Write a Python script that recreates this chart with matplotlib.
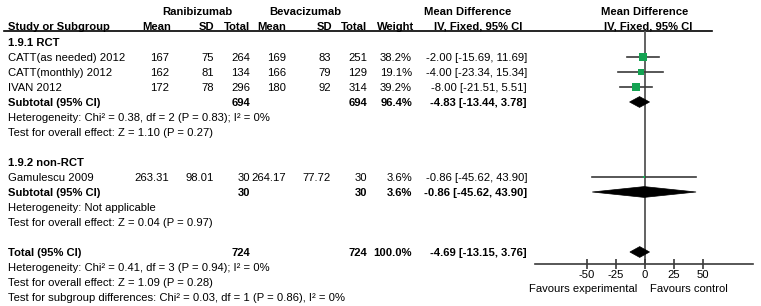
import numpy as np
import matplotlib.pyplot as plt

plt.rcParams['font.family'] = ['Liberation Sans', 'DejaVu Sans']

# --- data ---
studies = ['CATT(as needed) 2012', 'CATT(monthly) 2012', 'IVAN 2012', 'Gamulescu 2009']
study_rows = [1, 2, 3, 9]
rani_mean = [167, 162, 172, 263.31]
rani_sd = [75, 81, 78, 98.01]
rani_n = [264, 134, 296, 30]
bev_mean = [169, 166, 180, 264.17]
bev_sd = [83, 79, 92, 77.72]
bev_n = [251, 129, 314, 30]
weight = [38.2, 19.1, 39.2, 3.6]
md = [-2.00, -4.00, -8.00, -0.86]
ci_lo = [-15.69, -23.34, -21.51, -45.62]
ci_hi = [11.69, 15.34, 5.51, 43.90]

pooled_labels = ['Subtotal (95% CI)', 'Subtotal (95% CI)', 'Total (95% CI)']
pooled_rows = [4, 10, 14]
pooled_n1 = [694, 30, 724]
pooled_n2 = [694, 30, 724]
pooled_w = [96.4, 3.6, 100.0]
pooled_md = [-4.83, -0.86, -4.69]
pooled_lo = [-13.44, -45.62, -13.15]
pooled_hi = [3.78, 43.90, 3.76]

group_labels = ['1.9.1 RCT', '1.9.2 non-RCT']
group_rows = [0, 8]

notes = ['Heterogeneity: Chi\u00b2 = 0.38, df = 2 (P = 0.83); I\u00b2 = 0%',
         'Test for overall effect: Z = 1.10 (P = 0.27)',
         'Heterogeneity: Not applicable',
         'Test for overall effect: Z = 0.04 (P = 0.97)',
         'Heterogeneity: Chi\u00b2 = 0.41, df = 3 (P = 0.94); I\u00b2 = 0%',
         'Test for overall effect: Z = 1.09 (P = 0.28)',
         'Test for subgroup differences: Chi\u00b2 = 0.03, df = 1 (P = 0.86), I\u00b2 = 0%']
note_rows = [5, 6, 11, 12, 15, 16, 17]

xticks = [-50, -25, 0, 25, 50]

W, H = 761, 306
fs = 8.1
green = '#14a352'
line_c = '#3a3a3a'

fig = plt.figure(figsize=(W / 100, H / 100), dpi=100)

# table axes: x in pixels, y in row units (row 0 at 42px, 15px per row)
tab = fig.add_axes([0, 0, 1, 1])
tab.set_xlim(0, W)
tab.set_ylim((H - 42) / 15, -42 / 15)
tab.axis('off')


def row_text(x, r, s, ha='right', bold=False):
    tab.text(x, r + 0.27, s, ha=ha, va='baseline', fontsize=fs,
             fontweight='bold' if bold else 'normal')


# header
hdr1 = -2.1
hdr2 = -1.1
row_text(197, hdr1, 'Ranibizumab', ha='center', bold=True)
row_text(305, hdr1, 'Bevacizumab', ha='center', bold=True)
row_text(468, hdr1, 'Mean Difference', ha='center', bold=True)
row_text(645, hdr1, 'Mean Difference', ha='center', bold=True)
row_text(8, hdr2, 'Study or Subgroup', ha='left', bold=True)
for x, s in zip([171, 214, 250, 286, 332, 367, 414],
                ['Mean', 'SD', 'Total', 'Mean', 'SD', 'Total', 'Weight']):
    row_text(x, hdr2, s, bold=True)
row_text(478, hdr2, 'IV, Fixed, 95% CI', ha='center', bold=True)
row_text(648, hdr2, 'IV, Fixed, 95% CI', ha='center', bold=True)
tab.plot([4, 712], [-0.72, -0.72], color='black', lw=1.2)

cols = [169, 214, 250, 286, 331, 367, 412, 527]
for i, name in enumerate(studies):
    r = study_rows[i]
    row_text(8, r, name, ha='left')
    vals = ['%g' % rani_mean[i], '%g' % rani_sd[i], '%d' % rani_n[i],
            '%g' % bev_mean[i], '%g' % bev_sd[i], '%d' % bev_n[i],
            '%.1f%%' % weight[i],
            '%.2f [%.2f, %.2f]' % (md[i], ci_lo[i], ci_hi[i])]
    for x, s in zip(cols, vals):
        row_text(x, r, s)

for i, name in enumerate(pooled_labels):
    r = pooled_rows[i]
    row_text(8, r, name, ha='left', bold=True)
    row_text(cols[2], r, '%d' % pooled_n1[i], bold=True)
    row_text(cols[5], r, '%d' % pooled_n2[i], bold=True)
    row_text(cols[6], r, '%.1f%%' % pooled_w[i], bold=True)
    row_text(cols[7], r, '%.2f [%.2f, %.2f]' % (pooled_md[i], pooled_lo[i], pooled_hi[i]), bold=True)

for name, r in zip(group_labels, group_rows):
    row_text(8, r, name, ha='left', bold=True)

for s, r in zip(notes, note_rows):
    row_text(8, r, s, ha='left')

# forest plot axes
ax = fig.add_axes([535 / W, 1 - 264 / H, (753 - 535) / W, (264 - 31) / H])
ax.set_xlim(-95, 93)
ax.set_ylim(14.8, -0.733)
ax.patch.set_alpha(0)
for sp in ['top', 'left', 'right']:
    ax.spines[sp].set_visible(False)
ax.spines['bottom'].set_color(line_c)
ax.spines['bottom'].set_linewidth(1.2)
ax.set_yticks([])
ax.set_xticks(xticks)
ax.set_xticklabels([str(t) for t in xticks], fontsize=fs)
ax.tick_params(axis='x', direction='inout', length=7, width=1.2, color=line_c, pad=1)

ax.axvline(0, color='#555555', lw=1.3, zorder=1)

for i in range(len(studies)):
    r = study_rows[i]
    ax.plot([ci_lo[i], ci_hi[i]], [r, r], color=line_c, lw=1.2, zorder=2)
    ax.plot(md[i], r, marker='s', color=green, ms=0.95 * np.sqrt(weight[i]),
            mew=0, zorder=3)

h = 0.36
for i in range(len(pooled_rows)):
    r = pooled_rows[i]
    ax.fill([pooled_lo[i], pooled_md[i], pooled_hi[i], pooled_md[i]],
            [r, r - h, r, r + h], color='black', lw=0.5, zorder=3)

fig.text(637 / W, 1 - 289 / H, 'Favours experimental', ha='right', va='center', fontsize=fs)
fig.text(650 / W, 1 - 289 / H, 'Favours control', ha='left', va='center', fontsize=fs)

fig.savefig('out.png', dpi=100)
